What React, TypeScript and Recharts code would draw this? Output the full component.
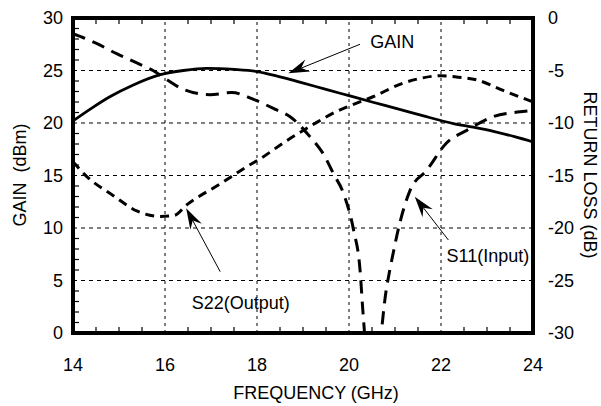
import {
  LineChart,
  Line,
  XAxis,
  YAxis,
  ReferenceLine,
  ReferenceArea,
  ReferenceDot,
} from 'recharts'

const FONT = '"Liberation Sans", Arial, Helvetica, sans-serif'

// axis ticks
const freqTicks = [14, 16, 18, 20, 22, 24]
const freqMinorTicks = [14.5, 15, 15.5, 16.5, 17, 17.5, 18.5, 19, 19.5, 20.5, 21, 21.5, 22.5, 23, 23.5]
const gainTicks = [0, 5, 10, 15, 20, 25, 30]
const gainMinorTicks = [1, 2, 3, 4, 6, 7, 8, 9, 11, 12, 13, 14, 16, 17, 18, 19, 21, 22, 23, 24, 26, 27, 28, 29]
const returnLossTicks = [-30, -25, -20, -15, -10, -5, 0]
const gridFreqs = [16, 18, 20, 22]
const gridGains = [5, 10, 15, 20, 25]

// GAIN (dBm)
const gainFreq = [14.0, 14.4, 14.8, 15.3, 15.9, 16.4, 16.9, 17.5, 18.0, 18.5, 18.93, 19.5, 20.0, 20.5, 21.1, 21.6, 22.27, 22.7, 23.14, 23.6, 24.0]
const gainDbm = [20.2, 21.4, 22.5, 23.6, 24.6, 25.0, 25.2, 25.1, 24.9, 24.4, 23.9, 23.2, 22.6, 22.0, 21.3, 20.7, 19.95, 19.6, 19.2, 18.7, 18.2]

// S11 (Input) return loss (dB)
const s11Freq = [14.0, 14.5, 14.95, 15.4, 15.74, 16.05, 16.4, 16.98, 17.45, 17.95, 18.4, 18.72, 19.15, 19.45, 19.66, 19.88, 20.1, 20.24, 20.3, 20.5, 20.82, 20.96, 21.1, 21.33, 21.69, 22.12, 22.56, 23.13, 23.78, 24.0]
const s11Db = [-1.5, -2.4, -3.4, -4.3, -5.0, -5.9, -6.8, -7.3, -7.1, -7.8, -8.7, -9.4, -11.3, -13.0, -14.8, -16.7, -20.2, -24.0, -27.8, -36, -25.6, -22.4, -19.6, -16.4, -14.5, -11.9, -10.7, -9.4, -8.9, -8.8]

// S22 (Output) return loss (dB)
const s22Freq = [14.0, 14.3, 14.87, 15.4, 15.9, 16.2, 16.47, 17.2, 17.8, 18.07, 18.64, 19.2, 19.73, 20.0, 20.52, 21.18, 21.5, 22.0, 22.3, 22.78, 23.35, 24.0]
const s22Db = [-13.7, -15.1, -16.9, -18.4, -18.9, -18.8, -17.8, -15.8, -14.1, -13.4, -11.7, -10.2, -8.9, -8.4, -7.5, -6.2, -5.8, -5.5, -5.6, -5.9, -6.9, -8.0]

// callouts, in GHz / dBm
const notes = [
  { text: 'GAIN', x: 20.46, y: 27.1, from: [20.24, 27.5], to: [18.68, 24.73] },
  { text: 'S22(Output)', x: 16.58, y: 2.3, from: [17.2, 5.84], to: [16.46, 11.88] },
  { text: 'S11(Input)', x: 22.12, y: 6.8, from: [22.16, 8.86], to: [21.43, 12.98] },
]

const gainData = gainFreq.map((f, i) => ({ f, v: gainDbm[i] }))
const s11Data = s11Freq.map((f, i) => ({ f, v: s11Db[i] }))
const s22Data = s22Freq.map((f, i) => ({ f, v: s22Db[i] }))

const tickStyle = { fill: '#000', fontSize: 18, fontFamily: FONT }

function Arrow(p: any) {
  const { x1, y1, x2, y2 } = p
  const dx = x2 - x1
  const dy = y2 - y1
  const len = Math.hypot(dx, dy) || 1
  const ux = dx / len
  const uy = dy / len
  const px = -uy
  const py = ux
  const bx = x2 - ux * 21
  const by = y2 - uy * 21
  const nx = x2 - ux * 14
  const ny = y2 - uy * 14
  const pts = [
    [x2, y2],
    [bx + px * 6.5, by + py * 6.5],
    [nx, ny],
    [bx - px * 6.5, by - py * 6.5],
  ]
    .map((q) => q.join(','))
    .join(' ')
  return (
    <g>
      <line x1={x1} y1={y1} x2={nx} y2={ny} stroke="#000" strokeWidth={1} />
      <polygon points={pts} fill="#000" />
    </g>
  )
}

// short inner tick, pointing from the frame edge into the plot
function InnerTick(p: any) {
  const { x1, y1, x2, y2 } = p
  const dx = x2 - x1
  const dy = y2 - y1
  const len = Math.hypot(dx, dy) || 1
  return (
    <line
      x1={x1}
      y1={y1}
      x2={x1 + (dx / len) * 6}
      y2={y1 + (dy / len) * 6}
      stroke="#000"
      strokeWidth={1.2}
    />
  )
}

export default function App() {
  return (
    <div style={{ position: 'absolute', left: 0, top: 0, width: 601, height: 406, background: '#fff' }}>
      <LineChart width={601} height={406} margin={{ top: 18, right: 0, bottom: 0, left: 0 }}>
        <XAxis
          xAxisId="f"
          type="number"
          dataKey="f"
          domain={[14, 24]}
          allowDataOverflow
          ticks={freqTicks}
          interval={0}
          tick={tickStyle}
          tickLine={false}
          tickSize={0}
          tickMargin={25}
          height={73}
          axisLine={false}
        />
        <YAxis
          yAxisId="gain"
          type="number"
          domain={[0, 30]}
          allowDataOverflow
          ticks={gainTicks}
          interval={0}
          tick={tickStyle}
          tickLine={false}
          tickSize={0}
          tickMargin={10}
          width={73}
          axisLine={false}
        />
        <YAxis
          yAxisId="rl"
          orientation="right"
          type="number"
          domain={[-30, 0]}
          allowDataOverflow
          ticks={returnLossTicks}
          interval={0}
          tick={tickStyle}
          tickLine={false}
          tickSize={0}
          tickMargin={15}
          width={68}
          axisLine={false}
        />

        {gridFreqs.map((v) => (
          <ReferenceLine key={'gx' + v} xAxisId="f" yAxisId="gain" x={v} stroke="#000" strokeWidth={1} strokeDasharray="3 4" />
        ))}
        {gridGains.map((v) => (
          <ReferenceLine key={'gy' + v} xAxisId="f" yAxisId="gain" y={v} stroke="#000" strokeWidth={1} strokeDasharray="4 4" />
        ))}

        {freqMinorTicks.map((v) => (
          <ReferenceLine
            key={'tb' + v}
            xAxisId="f"
            yAxisId="gain"
            ifOverflow="visible"
            segment={[{ x: v, y: 0 }, { x: v, y: 30 }]}
            shape={InnerTick}
          />
        ))}
        {freqMinorTicks.map((v) => (
          <ReferenceLine
            key={'tt' + v}
            xAxisId="f"
            yAxisId="gain"
            ifOverflow="visible"
            segment={[{ x: v, y: 30 }, { x: v, y: 0 }]}
            shape={InnerTick}
          />
        ))}
        {gainMinorTicks.map((v) => (
          <ReferenceLine
            key={'tl' + v}
            xAxisId="f"
            yAxisId="gain"
            ifOverflow="visible"
            segment={[{ x: 14, y: v }, { x: 24, y: v }]}
            shape={InnerTick}
          />
        ))}

        <Line
          xAxisId="f"
          yAxisId="gain"
          data={gainData}
          dataKey="v"
          type="monotone"
          stroke="#000"
          strokeWidth={2.8}
          dot={false}
          isAnimationActive={false}
        />
        <Line
          xAxisId="f"
          yAxisId="rl"
          data={s11Data}
          dataKey="v"
          type="monotone"
          stroke="#000"
          strokeWidth={3}
          strokeDasharray="13 8"
          dot={false}
          isAnimationActive={false}
        />
        <Line
          xAxisId="f"
          yAxisId="rl"
          data={s22Data}
          dataKey="v"
          type="monotone"
          stroke="#000"
          strokeWidth={3}
          strokeDasharray="9 6"
          dot={false}
          isAnimationActive={false}
        />

        <ReferenceArea
          xAxisId="f"
          yAxisId="gain"
          x1={14}
          x2={24}
          y1={0}
          y2={30}
          fill="none"
          stroke="#000"
          strokeWidth={4}
          ifOverflow="visible"
        />

        {notes.map((n) => (
          <ReferenceLine
            key={'a' + n.text}
            xAxisId="f"
            yAxisId="gain"
            segment={[
              { x: n.from[0], y: n.from[1] },
              { x: n.to[0], y: n.to[1] },
            ]}
            shape={Arrow}
          />
        ))}
        {notes.map((n) => (
          <ReferenceDot
            key={'t' + n.text}
            xAxisId="f"
            yAxisId="gain"
            x={n.x}
            y={n.y}
            r={0}
            fill="none"
            stroke="none"
            label={(p: any) => (
              <text x={p.viewBox.x} y={p.viewBox.y} fill="#000" fontSize={18} fontFamily={FONT}>
                {n.text}
              </text>
            )}
          />
        ))}

        <text
          x={20}
          y={175}
          transform="rotate(-90 20 175)"
          textAnchor="middle"
          dominantBaseline="central"
          fontSize={18}
          fontFamily={FONT}
          fill="#000"
          style={{ whiteSpace: 'pre' }}
        >
          GAIN  (dBm)
        </text>
        <text
          x={590}
          y={175}
          transform="rotate(90 590 175)"
          textAnchor="middle"
          dominantBaseline="central"
          fontSize={18}
          fontFamily={FONT}
          fill="#000"
        >
          RETURN LOSS (dB)
        </text>
        <text x={316} y={399} textAnchor="middle" fontSize={18} fontFamily={FONT} fill="#000">
          FREQUENCY (GHz)
        </text>
      </LineChart>
    </div>
  )
}
